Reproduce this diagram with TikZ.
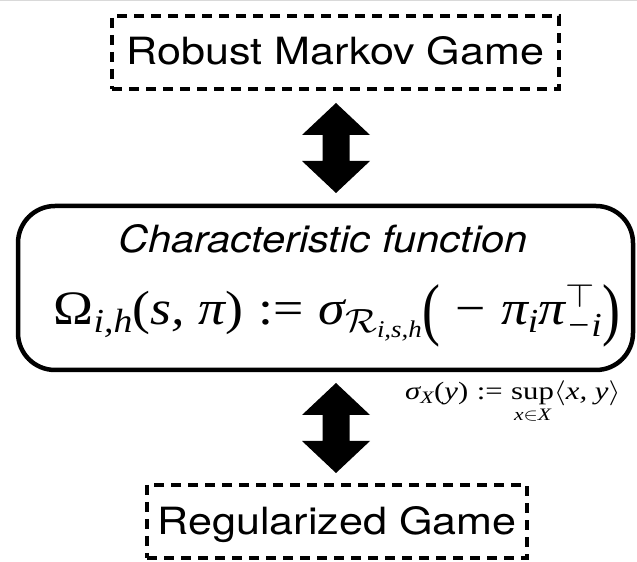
\RequirePackage{fix-cm}
\documentclass[tikz,border=0pt]{standalone}
\usepackage{amsmath}
\usepackage{fontspec}
\setsansfont{TeX Gyre Heros}
\newfontfamily\tmsfont{Liberation Serif}
\usepackage{graphicx}
\usetikzlibrary{calc}

% text in this figure is set slightly wide
\newcommand{\hstretch}[2][1.15]{\scalebox{#1}[1]{#2}}
% Times-like pieces inside formulas
\newcommand{\tu}[1]{\text{\tmsfont\upshape #1}}
\newcommand{\ti}[1]{\text{\tmsfont\itshape #1}}
% tall Times parentheses
\newcommand{\tallopen}{\mathopen{\raisebox{-8pt}{\scalebox{1}[1.44]{\tmsfont(}}}}
\newcommand{\tallclose}{\mathclose{\raisebox{-8pt}{\scalebox{1}[1.44]{\tmsfont)}}}}

% filled two-headed arrow from upper tip #1 to lower tip #2
\newcommand{\dblarrow}[2]{%
  \fill (#1) -- ++(34,-32) -- ++(-20.5,0) -- ($(#2)+(13.5,32)$) -- ++(20.5,0)
    -- (#2) -- ++(-34,32) -- ++(20.5,0) -- ($(#1)+(-13.5,-32)$) -- ++(-20.5,0) -- cycle;}

\begin{document}
\begin{tikzpicture}[x=1pt,y=1pt,
  dashbox/.style={draw, line width=4pt, dash pattern=on 10pt off 7pt,
    inner sep=0pt, outer sep=0pt,
    font=\sffamily\fontsize{37.5}{40}\selectfont},
  charbox/.style={draw, line width=4.5pt, rounded corners=37pt,
    inner sep=0pt, outer sep=0pt},
  sanslabel/.style={anchor=base, inner sep=0pt,
    font=\sffamily\itshape\fontsize{37.5}{40}\selectfont},
  mathlabel/.style={inner sep=0pt},
]
\useasboundingbox (0,0) rectangle (637,562);
\draw[black!15, line width=1pt] (0,561.5) -- (637,561.5);

% the three boxes
\node[dashbox, minimum width=447pt, minimum height=73pt,
      text height=26pt, text depth=1pt] (robust) at (335.5,509.5)
      {\hstretch{Robust Markov Game}};
\node[charbox, minimum width=615pt, minimum height=164pt] (charfn) at (325.5,274) {};
\node[sanslabel] (chartitle) at (323,309) {\hstretch[1.11]{Characteristic function}};
\node[mathlabel, anchor=base, font=\fontsize{48}{50}\selectfont] (charformula) at (337,237)
  {\hstretch[1.12]{$\tu{Ω}_{\ti{i,h}}\tu{(}\ti{s, π}\tu{)} \mathrel{\tu{:=}}
    \ti{σ}_{\mathcal{R}_{\ti{i,s,h}}}\tallopen\;\tu{−}\;\ti{π}_{\ti{i}}\ti{π}^{\top}_{\ti{−i}}\tallclose$}};
\node[dashbox, minimum width=380pt, minimum height=73pt,
      text height=27pt, text depth=0pt] (regular) at (337,40.5)
      {\hstretch{Regularized Game}};

% definition of the support function
\node[mathlabel, anchor=base west, font=\fontsize{25}{27}\selectfont] (supportdef) at (405,162)
  {\hstretch[1.23]{$\ti{σ}_{\ti{X}}\tu{(}\ti{y}\tu{)} \mathrel{\tu{:=}}
    \mathop{\tu{sup}}\limits_{\rule{0pt}{11pt}\ti{x}\in\ti{X}}\langle \ti{x, y}\rangle$}};

% two-headed arrows between the boxes
\coordinate (u1) at ($(robust.south)+(0.5,-14)$);
\coordinate (d1) at ($(u1 |- charfn.north)+(0,13)$);
\coordinate (u2) at ($(u1 |- charfn.south)+(0,-13)$);
\coordinate (d2) at ($(u1 |- regular.north)+(0,12)$);
\dblarrow{u1}{d1}
\dblarrow{u2}{d2}
\end{tikzpicture}
\end{document}
